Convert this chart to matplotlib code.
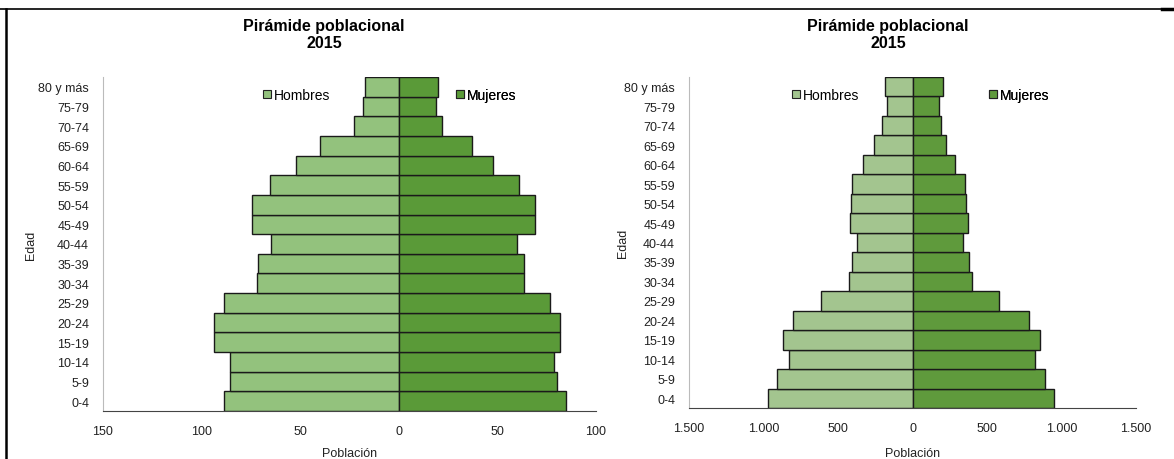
import matplotlib.pyplot as plt
from matplotlib.lines import Line2D
from matplotlib.patches import Patch
import numpy as np

plt.rcParams['font.family'] = ['Liberation Sans', 'DejaVu Sans']

edades = ['0-4', '5-9', '10-14', '15-19', '20-24', '25-29', '30-34', '35-39',
          '40-44', '45-49', '50-54', '55-59', '60-64', '65-69', '70-74', '75-79', '80 y más']

# panel izquierdo
hombres_izq = [88.7, 85.4, 85.4, 93.9, 93.9, 88.7, 72.0, 71.2,
               64.9, 74.2, 74.2, 65.5, 52.1, 40.2, 22.7, 18.1, 17.3]
mujeres_izq = [84.8, 80.2, 78.8, 81.8, 81.8, 76.8, 63.7, 63.7,
               59.9, 69.2, 69.2, 60.9, 47.6, 37.0, 22.1, 19.1, 19.7]
ticks_izq = [-150, -100, -50, 0, 50, 100]
labels_izq = ['150', '100', '50', '0', '50', '100']

# panel derecho
hombres_der = [971, 907, 831, 866, 799, 617, 425, 408,
               371, 420, 413, 408, 334, 256, 207, 172, 184]
mujeres_der = [947, 890, 821, 853, 779, 583, 396, 376,
               337, 371, 359, 354, 288, 226, 194, 175, 202]
ticks_der = [-1500, -1000, -500, 0, 500, 1000, 1500]
labels_der = ['1.500', '1.000', '500', '0', '500', '1.000', '1.500']

W, H = 1174, 460
fig = plt.figure(figsize=(W / 100, H / 100), dpi=100)


def piramide(rect, hombres, mujeres, ticks, labels, xlim, c_h, c_m, leg_h, leg_m, title_x,
             ylab_x, xlab_y):
    ax = fig.add_axes(rect)
    y = np.arange(len(edades))
    ax.barh(y, -np.array(hombres), height=1.0, color=c_h, edgecolor='#1a1a1a', linewidth=1.0)
    ax.barh(y, mujeres, height=1.0, color=c_m, edgecolor='#1a1a1a', linewidth=1.0)
    ax.set_xlim(*xlim)
    ax.set_ylim(-0.5, len(edades) - 0.5)
    ax.set_yticks(y)
    ax.set_yticklabels(edades, fontsize=9, color='#222222')
    ax.set_xticks(ticks)
    ax.set_xticklabels(labels, fontsize=9, color='#222222')
    ax.tick_params(axis='y', length=0, pad=10)
    ax.tick_params(axis='x', length=0, pad=10)
    ax.spines['top'].set_visible(False)
    ax.spines['right'].set_visible(False)
    ax.spines['left'].set_color('#bbbbbb')
    ax.spines['bottom'].set_color('#444444')
    ax.set_xlabel('Población', fontsize=9, color='#222222')
    ax.set_ylabel('Edad', fontsize=9, color='#222222')
    ax.xaxis.set_label_coords(0.5, xlab_y)
    ax.yaxis.set_label_coords(ylab_x, 0.5)
    ax.patch.set_alpha(0)
    # leyenda en dos piezas
    for lab, col, pos in [('Hombres', c_h, leg_h), ('Mujeres', c_m, leg_m)]:
        lg = ax.legend(handles=[Patch(facecolor=col, edgecolor='#222222', linewidth=0.8, label=lab)],
                       loc='center left', bbox_to_anchor=(pos, 0.946), frameon=False,
                       fontsize=10, handlelength=0.55, handleheight=0.55,
                       handletextpad=0.25, borderpad=0, borderaxespad=0)
        ax.add_artist(lg)
    fig.text(title_x, 1 - 35 / H, 'Pirámide poblacional\n2015', ha='center', va='center',
             fontsize=11.5, fontweight='bold', linespacing=1.2)
    return ax


piramide([103 / W, 48 / H, 493 / W, 334 / H], hombres_izq, mujeres_izq, ticks_izq, labels_izq,
         (-150, 100), '#93c27d', '#5a9a38', (263 - 103) / 493, (456 - 103) / 493, 324 / W,
         (37 - 103) / 493, (412 - 448) / 334)
piramide([689 / W, 51 / H, 447 / W, 331 / H], hombres_der, mujeres_der, ticks_der, labels_der,
         (-1500, 1500), '#a3c58f', '#5f9a3c', (792 - 689) / 447, (989 - 689) / 447, 888 / W,
         (629 - 689) / 447, (409 - 448) / 331)

# marco de la imagen original
fig.add_artist(Line2D([0, 1], [1 - 9.5 / H, 1 - 9.5 / H], color='black', linewidth=1.2))
fig.add_artist(Line2D([6 / W, 6 / W], [0, 1 - 9.5 / H], color='black', linewidth=1.8))
fig.add_artist(Line2D([1162 / W, 1], [1 - 10 / H, 1 - 10 / H], color='black', linewidth=2.5))

fig.savefig('out.png', dpi=100)
